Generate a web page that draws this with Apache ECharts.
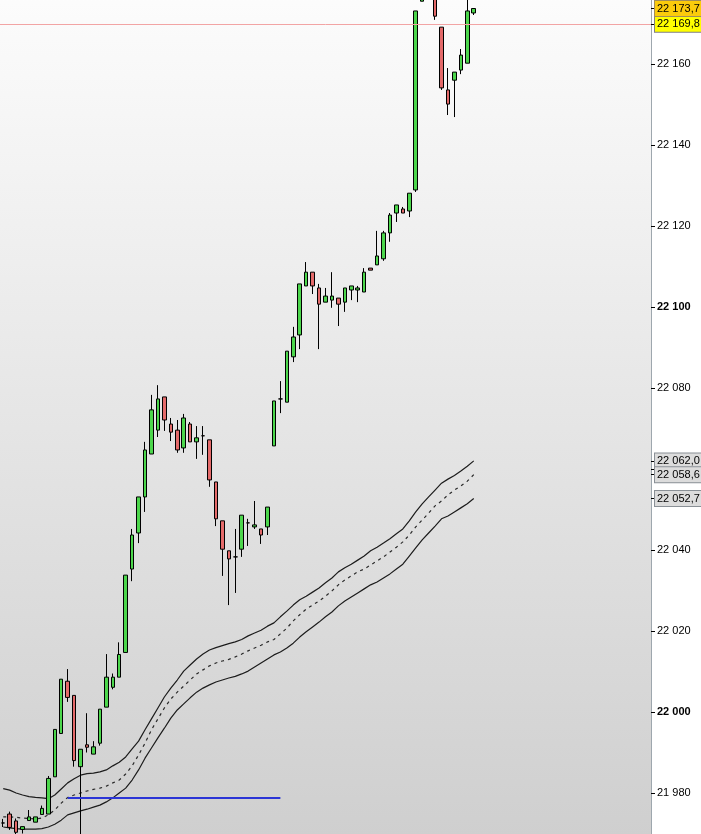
<!DOCTYPE html>
<html>
<head>
<meta charset="utf-8">
<script src="https://cdn.jsdelivr.net/npm/echarts@6/dist/echarts.min.js"></script>
<style>html,body{margin:0;padding:0;background:#fff}#c{width:701px;height:834px}</style>
</head>
<body>
<div id="c"></div>
<script>
// ---- data ----
const opens = [21972.6,21974.8,21973.1,21971.0,21973.2,21972.8,21974.7,21974.8,21984.0,21994.7,
22007.6,22004.1,21986.5,21991.9,21989.6,21992.3,22001.2,22006.1,22008.6,22014.7,
22035.3,22044.2,22053.1,22063.7,22069.6,22077.8,22071.1,22069.6,22065.2,22071.1,
22066.7,22068.2,22067.2,22056.8,22047.2,22039.8,22038.3,22040.2,22046.7,22045.7,
22045.2,22045.7,22065.7,22077.3,22076.5,22087.7,22093.1,22105.2,22108.6,22104.7,
22101.2,22101.7,22102.2,22101.2,22104.2,22104.2,22103.7,22109.6,22110.4,22111.9,
22118.3,22123.2,22124.2,22123.7,22128.9,22175.5,22184.0,22181.0,22169.1,22153.6,
22156.0,22158.5,22160.2,22172.6];
const closes = [21972.6,21971.5,21970.3,21971.7,21974.1,21974.1,21976.2,21983.6,21995.7,22008.1,
22003.6,21988.0,21990.8,21991.3,21991.4,22000.7,22008.6,22008.6,22014.2,22033.8,
22043.7,22053.1,22064.7,22074.6,22077.3,22072.1,22069.1,22064.7,22072.6,22066.7,
22067.7,22068.2,22057.3,22047.7,22040.2,22037.8,22038.3,22048.6,22046.7,22046.2,
22043.7,22050.6,22076.8,22077.3,22089.1,22092.6,22105.7,22108.6,22105.2,22100.7,
22102.7,22102.7,22100.7,22104.7,22105.2,22104.7,22108.6,22109.1,22112.6,22118.3,
22122.7,22125.2,22123.2,22128.1,22173.1,22181.0,22181.5,22171.8,22154.1,22150.1,
22158.0,22162.2,22173.1,22173.7];
const lows = [21971.6,21970.9,21969.6,21970.0,21973.2,21972.8,21974.7,21974.8,21984.0,21994.7,
22002.5,21986.5,21955.0,21990.0,21989.6,21991.7,22001.2,22005.6,22008.6,22014.7,
22032.3,22041.7,22049.4,22063.7,22067.9,22069.4,22066.9,22064.0,22064.0,22066.7,
22062.5,22063.5,22055.6,22045.9,22033.6,22026.4,22029.4,22038.3,22041.0,22045.2,
22041.5,22043.7,22065.7,22073.8,22076.5,22086.4,22089.6,22105.2,22103.2,22089.6,
22101.2,22099.8,22095.3,22098.8,22101.7,22101.2,22103.7,22109.1,22110.4,22111.4,
22116.1,22121.0,22123.2,22122.2,22128.4,22175.5,22180.5,22170.9,22153.6,22147.4,
22146.9,22157.5,22160.2,22172.1];
const highs = [21973.6,21975.4,21973.7,21971.7,21975.8,21974.1,21976.9,21984.2,21995.7,22008.1,
22010.6,22004.1,21990.8,21999.7,21992.8,22000.7,22014.3,22009.5,22017.2,22033.8,
22045.2,22053.1,22066.7,22078.3,22080.7,22077.8,22072.6,22072.1,22073.6,22071.6,
22070.6,22070.6,22067.2,22056.8,22047.2,22039.8,22045.2,22048.6,22047.7,22052.1,
22045.2,22050.6,22076.8,22081.7,22089.1,22095.1,22105.7,22111.1,22108.6,22105.7,
22104.7,22108.6,22102.2,22104.7,22105.2,22105.2,22109.6,22109.6,22118.8,22118.8,
22123.2,22125.2,22124.7,22128.1,22173.1,22182.0,22186.0,22182.0,22169.1,22159.0,
22158.0,22163.7,22178.0,22173.7];
const upperBand = [21981.1,21980.7,21980.0,21979.5,21979.1,21978.9,21978.8,21978.6,21979.5,21981.0,
21982.5,21983.5,21984.4,21984.8,21984.9,21985.2,21985.7,21986.7,21987.6,21988.9,
21990.9,21992.8,21995.6,21998.3,22001.0,22003.7,22005.9,22007.9,22010.1,22011.6,
22013.1,22014.3,22015.3,22015.9,22016.4,22016.9,22017.3,22017.9,22018.8,22019.5,
22020.2,22021.2,22022.0,22023.5,22024.9,22026.4,22027.7,22028.6,22029.6,22030.6,
22031.9,22033.1,22034.6,22035.6,22036.5,22037.5,22038.5,22039.8,22040.7,22041.7,
22042.8,22044.0,22045.2,22047.2,22049.4,22051.4,22053.1,22054.8,22056.5,22057.5,
22058.4,22059.5,22060.7,22062.0];
const middleBand = [21974.1,21974.1,21974.0,21973.8,21973.7,21973.6,21973.8,21974.6,21975.8,21977.5,
21978.9,21979.5,21980.0,21980.5,21980.9,21981.2,21981.7,21982.5,21983.2,21984.7,
21986.7,21989.4,21992.3,21995.6,21998.3,22001.0,22003.2,22004.9,22006.4,22007.9,
22009.4,22010.4,22011.4,22012.1,22012.6,22013.0,22013.6,22014.3,22015.1,22015.8,
22016.5,22017.3,22017.9,22019.3,22020.7,22022.5,22024.0,22025.4,22026.4,22027.4,
22028.6,22029.9,22031.4,22032.6,22033.6,22034.6,22035.3,22036.3,22037.3,22038.3,
22039.5,22040.7,22042.0,22043.7,22045.7,22047.4,22049.1,22050.9,22052.1,22053.6,
22054.8,22055.8,22057.0,22058.6];
const lowerBand = [21971.6,21971.4,21971.2,21971.1,21971.1,21971.1,21971.2,21971.6,21972.3,21973.3,
21974.6,21975.1,21975.6,21976.0,21976.5,21977.0,21977.8,21978.8,21980.0,21981.2,
21983.2,21985.7,21988.6,21991.1,21993.6,21996.0,21998.5,22000.5,22002.0,22003.5,
22004.9,22005.9,22006.7,22007.4,22007.9,22008.4,22008.8,22009.4,22010.1,22011.1,
22012.1,22013.1,22014.1,22014.8,22015.8,22017.0,22018.5,22019.8,22021.0,22022.2,
22023.5,22024.7,22026.2,22027.4,22028.4,22029.4,22030.4,22031.4,22032.1,22033.1,
22034.1,22035.3,22036.5,22038.5,22040.5,22042.5,22044.2,22045.9,22047.7,22048.4,
22049.4,22050.4,22051.4,22052.7];
const lastPrice = 22173.7;
const levelLine = 22169.8;
const blueLevel = 21978.8;
const blueFrom = 10, blueTo = 43;
const slotCount = 101;
const yTicks = {min: 21960, max: 22180, interval: 20};

const categories = [];
for (let i = 0; i < slotCount; i++) categories.push(String(i + 1));

// ---- helpers ----
function fmtInt(v) { return String(v).replace(/\B(?=(\d{3})+(?!\d))/g, ' '); }
function fmtDec(v) {
  const s = v.toFixed(1).split('.');
  return fmtInt(s[0]) + ',' + s[1];
}
const candleData = opens.map((o, i) => [o, closes[i], lows[i], highs[i]]);
const FONT = 'Arial, "Liberation Sans", sans-serif';

function tagLabel(value, bg, border) {
  return {
    show: true, position: 'end', distance: 0,
    formatter: fmtDec(value),
    backgroundColor: bg, borderColor: border, borderWidth: 1,
    padding: [2, 2, 1, 2], color: '#000', fontSize: 11, fontFamily: FONT,
    lineHeight: 12
  };
}
const tagLineStyle = {color: '#000', width: 1, type: 'solid', opacity: 1};
function tagLine(value, bg, border) {
  return [{x: 651, yAxis: value, lineStyle: tagLineStyle},
          {x: 655, yAxis: value, label: tagLabel(value, bg, border)}];
}

const chart = echarts.init(document.getElementById('c'), null, {renderer: 'canvas'});
chart.setOption({
  animation: false,
  backgroundColor: '#ffffff',
  grid: {
    left: 0, top: -17, width: 651, height: 891, show: true, borderWidth: 0,
    containLabel: false, outerBoundsMode: 'none',
    backgroundColor: new echarts.graphic.LinearGradient(0, 0, 0, 1, [
      {offset: 0, color: '#fdfdfd'}, {offset: 1, color: '#cdcdcd'}
    ])
  },
  xAxis: {
    type: 'category', data: categories, boundaryGap: true, show: false
  },
  yAxis: {
    type: 'value', position: 'right', min: yTicks.min, max: yTicks.max, interval: yTicks.interval,
    axisLine: {show: true, lineStyle: {color: '#9ea7ae', width: 1}},
    axisTick: {show: true, length: 4, lineStyle: {color: '#000'}},
    splitLine: {show: false},
    axisLabel: {
      show: true, margin: 6, color: '#000', fontSize: 11, fontFamily: FONT,
      formatter: v => (v % 100 === 0 ? '{b|' + fmtInt(v) + '}' : fmtInt(v)),
      rich: {b: {fontWeight: 'bold', fontSize: 11, fontFamily: FONT, color: '#000'}}
    }
  },
  series: [
    {
      type: 'line', data: upperBand, symbol: 'none', silent: true, z: 2,
      lineStyle: {color: '#1c1c1c', width: 1.2},
      markLine: {silent: true, symbol: ['none', 'none'], animation: false,
        data: [tagLine(upperBand[upperBand.length - 1], '#dcdcdc', '#8a9096')]}
    },
    {
      type: 'line', data: middleBand, symbol: 'none', silent: true, z: 2,
      lineStyle: {color: '#2a2a2a', width: 1.2, type: [3, 4]},
      markLine: {silent: true, symbol: ['none', 'none'], animation: false,
        data: [tagLine(middleBand[middleBand.length - 1], '#dcdcdc', '#8a9096')]}
    },
    {
      type: 'line', data: lowerBand, symbol: 'none', silent: true, z: 2,
      lineStyle: {color: '#1c1c1c', width: 1.2},
      markLine: {silent: true, symbol: ['none', 'none'], animation: false,
        data: [tagLine(lowerBand[lowerBand.length - 1], '#dcdcdc', '#8a9096')]}
    },
    {
      type: 'candlestick', data: candleData, barWidth: 4, z: 3, clip: true, silent: true,
      itemStyle: {color: '#4cd64c', color0: '#e46a6a', borderColor: '#000', borderColor0: '#000', borderWidth: 1},
      markLine: {
        silent: true, symbol: ['none', 'none'], animation: false,
        data: [
          [{coord: [blueFrom, blueLevel], lineStyle: {color: '#2b35d6', width: 2.2, type: 'solid'}, label: {show: false}},
           {coord: [blueTo, blueLevel]}],
          {yAxis: levelLine, lineStyle: {color: '#f2a4a4', width: 1, type: 'solid'}, label: {show: false}},
          tagLine(levelLine, '#ffff00', '#7f7f7f'),
          tagLine(lastPrice, '#fbcb0c', '#a08c5a')
        ]
      }
    }
  ]
});
</script>
</body>
</html>
